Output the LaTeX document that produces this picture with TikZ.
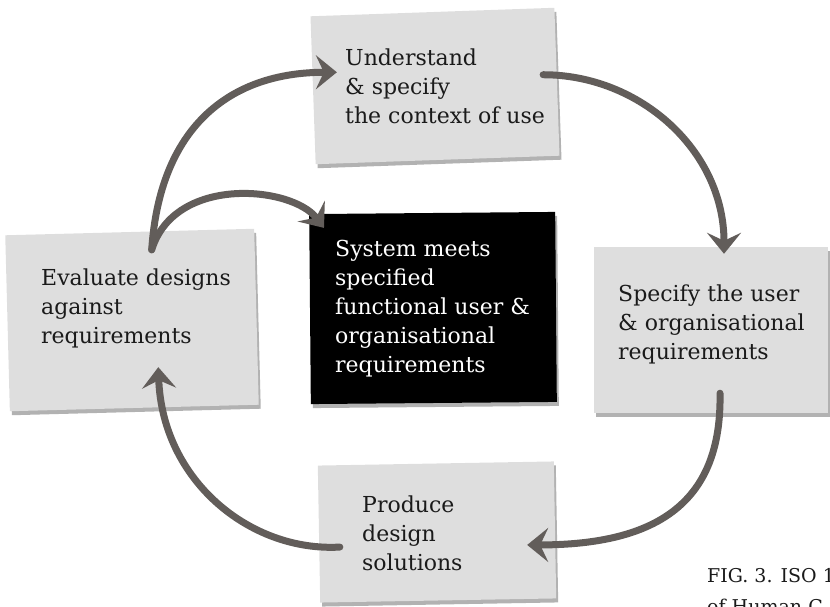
\documentclass[tikz,border=0pt]{standalone}
\usepackage{fontspec}
\setmainfont{DejaVu Serif}
\usetikzlibrary{arrows.meta,shadows}
\definecolor{papergray}{HTML}{DEDEDE}
\definecolor{arrowgray}{HTML}{625D5A}
\definecolor{ink}{HTML}{1A1A1A}

\begin{document}
\begin{tikzpicture}[x=1pt,y=-1pt,
        paper/.style={fill=papergray,drop shadow={shadow xshift=2pt,shadow yshift=-4pt,fill=black!60}},
        card/.style={anchor=west,align=left,inner sep=0pt,text=ink,font=\fontsize{22}{29}\selectfont},
        flow/.style={draw=arrowgray,line width=7pt,line cap=round,-{Stealth[length=21pt,width=34pt,inset=8pt]}}]
        \useasboundingbox (0,0) rectangle (830,607);
        \node[paper,minimum width=244pt,minimum height=148pt,rotate=2] (C) at (435,86) {};
        \node[paper,minimum width=249pt,minimum height=176pt,rotate=1.5] (E) at (132,320) {};
        \node[paper,fill=black,minimum width=246pt,minimum height=190pt,rotate=0.5] (M) at (433,308) {};
        \node[paper,minimum width=234pt,minimum height=166pt] (R) at (711,330) {};
        \node[paper,minimum width=236pt,minimum height=137pt,rotate=1] (P) at (437,532) {};
        \node[card] (CT) at (345,86) {Understand\\\& specify\\the context of use};
        \node[card] (ET) at (41,308) {Evaluate designs\\against\\requirements};
        \node[card,text=white] (MT) at (335,309) {System meets\\specified\\functional user \&\\organisational\\requirements};
        \node[card] (RT) at (618,324) {Specify the user\\\& organisational\\requirements};
        \node[card] (PT) at (362,533) {Produce\\design\\solutions};
        \node[anchor=north west,align=left,inner sep=0pt,text=ink,font=\fontsize{19}{31}\selectfont] (F) at (707,568) {FIG. 3. ISO 1\\of Human-C};
        \draw[flow] ([xshift=22pt,yshift=-18pt]E.north) .. controls +(8,-120) and +(-110,0) .. ([xshift=24pt,yshift=18pt]C.west);
        \draw[flow] ([xshift=22pt,yshift=-18pt]E.north) .. controls +(23,-75) and +(-32,-42) .. ([xshift=15pt,yshift=-14pt]M.north west);
        \draw[flow] ([xshift=-14pt,yshift=7pt]C.east) .. controls +(97,0) and +(0,-103) .. ([xshift=13pt,yshift=-7pt]R.north);
        \draw[flow] ([xshift=9pt,yshift=20pt]R.south) .. controls +(2,107) and +(133,0) .. ([xshift=-28pt,yshift=-15pt]P.east);
        \draw[flow] ([xshift=21pt,yshift=-13pt]P.west) .. controls +(-90,5) and +(4,113) .. ([xshift=24pt,yshift=41pt]E.south);
\end{tikzpicture}
\end{document}
